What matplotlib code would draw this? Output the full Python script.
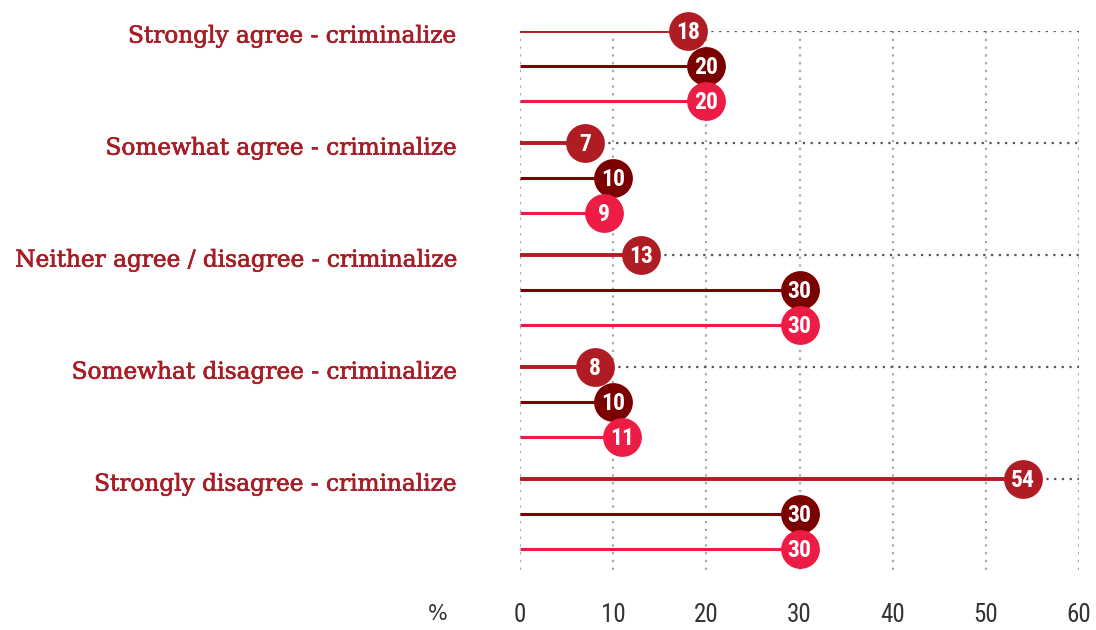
import numpy as np
import matplotlib.pyplot as plt
import matplotlib.patheffects as pe
from matplotlib import font_manager

# survey answers, three series per answer
categories = [
    "Strongly agree - criminalize",
    "Somewhat agree - criminalize",
    "Neither agree / disagree - criminalize",
    "Somewhat disagree - criminalize",
    "Strongly disagree - criminalize",
]
series_a = [18, 7, 13, 8, 54]
series_b = [20, 10, 30, 10, 30]
series_c = [20, 9, 30, 11, 30]
xticks = [0, 10, 20, 30, 40, 50, 60]

colors = ["#B01C24", "#7B0000", "#EC1C45"]
label_color = "#A81C25"
grid_color = "#a8a8a8"

names = {f.name for f in font_manager.fontManager.ttflist}
narrow = ["DejaVu Sans"]
for cand in ["Roboto Condensed", "Liberation Sans Narrow", "Roboto"]:
    if cand in names:
        narrow = [cand, "DejaVu Sans"]
        break

fig = plt.figure(figsize=(10.96, 6.3), dpi=100)
ax = fig.add_axes([520 / 1096, 1 - 575 / 630, (1079 - 520) / 1096, (575 - 31) / 630])

group_gap = 3.2
base = np.arange(len(categories)) * group_gap
rows = [base, base + 1, base + 2]
values = [series_a, series_b, series_c]

# vertical dotted grid
for t in xticks:
    ax.plot([t, t], [0, 15.54], ls=(0, (1, 2.5)), color=grid_color, lw=1.6, zorder=0)

# dotted guide from the first marker of each group out to 60
for y, v in zip(base, series_a):
    ax.plot([v, 60], [y, y], ls=(0, (1, 2.5)), color="#555555", lw=1.6, zorder=0)

for k in range(3):
    for y, v in zip(rows[k], values[k]):
        ax.plot([0, v], [y, y], color=colors[k], lw=2.2 if k else 2.8, zorder=1 + 2 * k, solid_capstyle="butt")
        ax.scatter([v], [y], s=780, color=colors[k], zorder=2 + 2 * k, clip_on=False, linewidths=0)
        ax.text(v, y + 0.03, str(v), color="white", ha="center", va="center", fontsize=17,
                fontweight="bold", family=narrow, zorder=2 + 2 * k)

for y, lab in zip(base, categories):
    ax.annotate(lab, xy=(0, y), xytext=(-65 * 0.72, -4), textcoords="offset points",
                ha="right", va="center", fontsize=16.7, color=label_color,
                family="DejaVu Serif", annotation_clip=False,
                path_effects=[pe.withStroke(linewidth=0.5, foreground=label_color)])

ax.set_xlim(0, 60)
ax.set_ylim(15.54, 0)
ax.set_xticks(xticks)
ax.set_xticklabels([str(t) for t in xticks], family=narrow, fontsize=18, color="#333333")
ax.tick_params(axis="x", length=0, pad=20)
ax.set_yticks([])
for s in ax.spines.values():
    s.set_visible(False)

ax.annotate("%", xy=(0, 15.54), xytext=(-82 * 0.72, -39 * 0.72), textcoords="offset points",
            ha="center", va="center", fontsize=15, color="#333333", family="DejaVu Sans",
            annotation_clip=False)

fig.savefig("out.png", dpi=100)
